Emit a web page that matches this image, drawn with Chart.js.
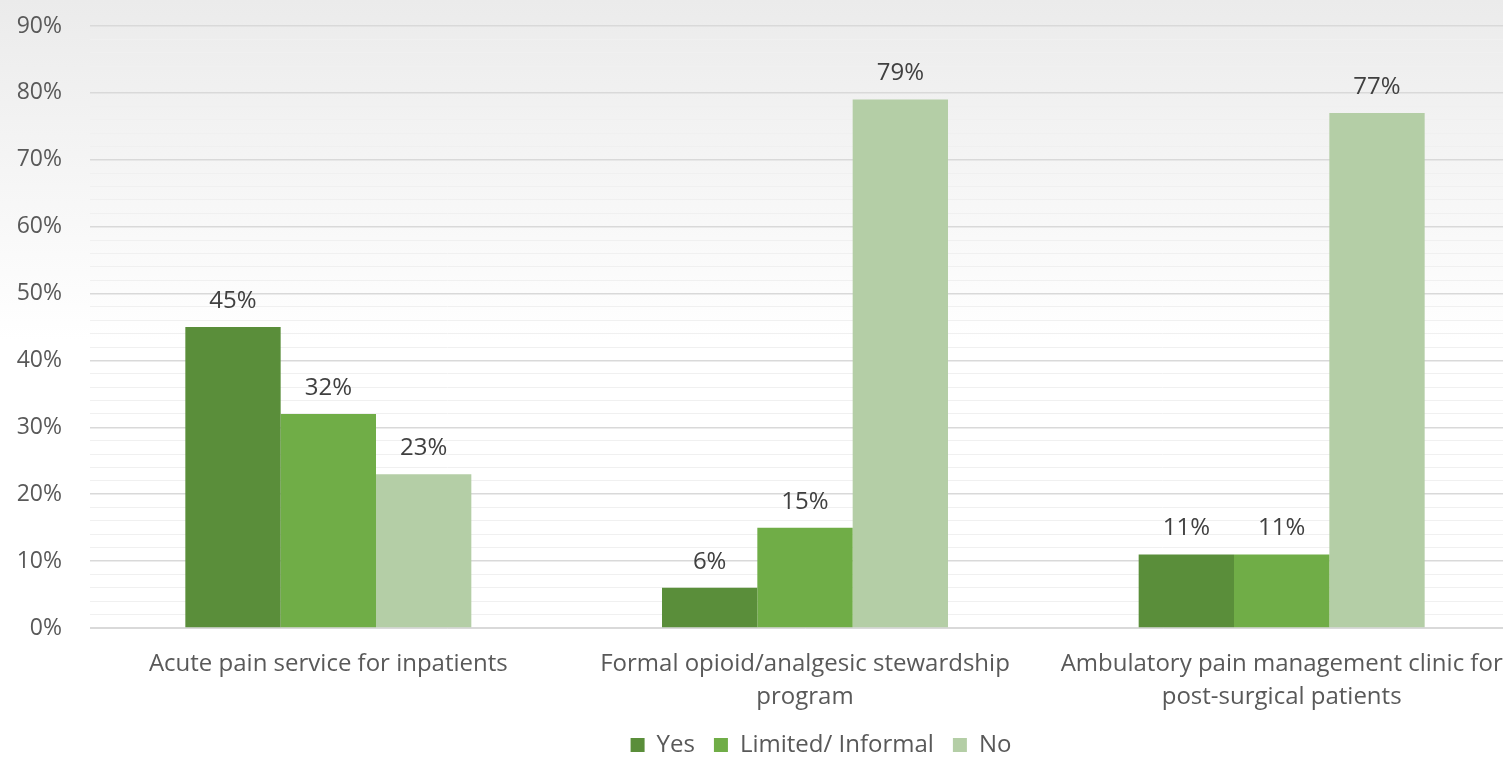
<!DOCTYPE html>
<html>
<head>
<meta charset="utf-8">
<script src="https://cdn.jsdelivr.net/npm/chart.js@4.4.1/dist/chart.umd.min.js"></script>
<style>
  html, body { margin: 0; padding: 0; overflow: hidden; background: #ffffff; }
  #wrap { width: 1642px; height: 757px; }
</style>
</head>
<body>
<div id="wrap"><canvas id="painChart" width="1642" height="757"></canvas></div>
<script>
// Survey results: share of hospitals with each pain-management service
const categories = [
    'Acute pain service for inpatients',
    ['Formal opioid/analgesic stewardship', 'program'],
    ['Ambulatory pain management clinic for', 'post-surgical patients']
];
const yesValues = [45, 6, 11];
const limitedValues = [32, 15, 11];
const noValues = [23, 79, 77];
const seriesNames = ['Yes', 'Limited/ Informal', 'No'];
const seriesColors = ['#5a8e3a', '#70ad47', '#b4cea6'];
const yMax = 90;

const FONT = '"Open Sans", "Noto Sans", sans-serif';
const TEXT_SIZE = 24;

// soft grey wash at the top of the canvas
const backdrop = {
    id: 'backdrop',
    beforeDraw(chart) {
        const c = chart.ctx;
        const g = c.createLinearGradient(0, 0, 0, chart.height);
        g.addColorStop(0, '#ebebeb');
        g.addColorStop(0.45, '#ffffff');
        g.addColorStop(1, '#ffffff');
        c.save();
        c.fillStyle = g;
        c.fillRect(0, 0, chart.width, chart.height);
        c.restore();
    }
};

// value labels above each bar
const valueLabels = {
    id: 'valueLabels',
    afterDatasetsDraw(chart) {
        const c = chart.ctx;
        c.save();
        c.font = TEXT_SIZE + 'px ' + FONT;
        c.fillStyle = '#404040';
        c.textAlign = 'center';
        c.textBaseline = 'middle';
        chart.data.datasets.forEach((ds, i) => {
            chart.getDatasetMeta(i).data.forEach((bar, j) => {
                c.fillText(ds.data[j] + '%', bar.x, bar.y - 26);
            });
        });
        c.restore();
    }
};

const config = {
    type: 'bar',
    data: {
        labels: categories,
        datasets: [
            { label: seriesNames[0], data: yesValues, backgroundColor: seriesColors[0] },
            { label: seriesNames[1], data: limitedValues, backgroundColor: seriesColors[1] },
            { label: seriesNames[2], data: noValues, backgroundColor: seriesColors[2] }
        ]
    },
    options: {
        responsive: false,
        animation: false,
        layout: { padding: { top: 0, left: 0, right: 0, bottom: -10 } },
        datasets: { bar: { categoryPercentage: 0.6, barPercentage: 1.0, borderWidth: 0 } },
        plugins: {
            tooltip: { enabled: false },
            legend: {
                position: 'bottom',
                labels: {
                    color: '#595959',
                    font: { family: FONT, size: TEXT_SIZE },
                    boxWidth: 14,
                    boxHeight: 14,
                    padding: 19
                }
            }
        },
        scales: {
            x: {
                grid: { display: false, drawTicks: false },
                border: { color: '#d9d9d9', width: 1 },
                ticks: {
                    color: '#595959',
                    font: { family: FONT, size: TEXT_SIZE, lineHeight: 1.375 },
                    padding: 19.5,
                    maxRotation: 0,
                    autoSkip: false
                },
                afterFit: s => { s.height = 86; }
            },
            y: {
                min: 0,
                max: yMax,
                grid: {
                    drawTicks: false,
                    color: ctx => (ctx.tick && ctx.tick.value % 10 === 0) ? '#d9d9d9' : '#f0f0f0',
                    lineWidth: ctx => (ctx.tick && ctx.tick.value % 10 === 0) ? 1.5 : 1
                },
                border: { display: false },
                ticks: {
                    stepSize: 2,
                    autoSkip: false,
                    color: '#595959',
                    font: { family: FONT, size: 23 },
                    padding: 28,
                    callback: v => v % 10 === 0 ? v + '%' : ''
                },
                afterFit: s => {
                    s.width = 90;
                    s.paddingTop = 26;
                    s.paddingBottom = 0;
                }
            },
            // empty right-hand gutter so the plot ends where the wider frame is cropped
            gutter: {
                position: 'right',
                display: true,
                grid: { display: false, drawTicks: false },
                border: { display: false },
                ticks: { display: false },
                afterFit: s => { s.width = 122; }
            }
        }
    },
    plugins: [backdrop, valueLabels]
};

const ctx = document.getElementById('painChart').getContext('2d');
const painChart = new Chart(ctx, config);
</script>
</body>
</html>
